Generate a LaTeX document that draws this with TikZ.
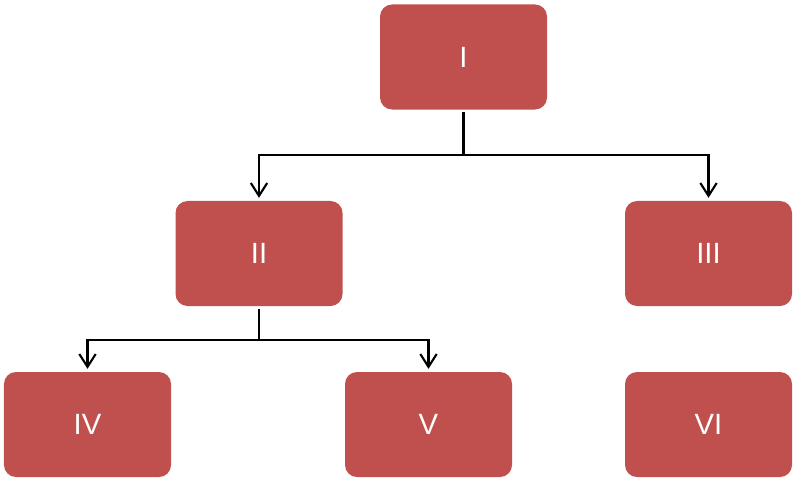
\documentclass[tikz,border=0pt]{standalone}
\usepackage{fontspec}
\setsansfont{Liberation Sans}
\usetikzlibrary{arrows.meta}
\definecolor{boxred}{HTML}{C0504D}
\tikzset{
	unit/.style = {draw=none, fill=boxred, rounded corners=0.36cm, text=white,
		minimum width=5.01cm, minimum height=3.15cm, inner sep=0pt,
		font=\sffamily\fontsize{25}{30}\selectfont},
	link/.style = {line width=1.8pt, -{Straight Barb[length=11pt,width=14pt,line width=1.8pt]},
		shorten <=2pt, shorten >=2.5pt}
}
\begin{document}
\begin{tikzpicture}[x=0.03cm,y=-0.03cm]
	\useasboundingbox (0,0) rectangle (797,482);
%
	\node[unit] (I) at (463.5,57) {I};
	\node[unit] (II) at (259,253.5) {II};
	\node[unit] (III) at (708.5,253.5) {III};
	\node[unit] (IV) at (87.5,424.5) {IV};
	\node[unit] (V) at (428.5,424.5) {V};
	\node[unit] (VI) at (708.5,424.5) {VI};
%
	\coordinate (fork1) at (463.5,155);
	\coordinate (fork2) at (259,340);
	\draw[link] (I) -- (fork1) -| (II);
	\draw[link] (I) -- (fork1) -| (III);
	\draw[link] (II) -- (fork2) -| (IV);
	\draw[link] (II) -- (fork2) -| (V);
\end{tikzpicture}
\end{document}
